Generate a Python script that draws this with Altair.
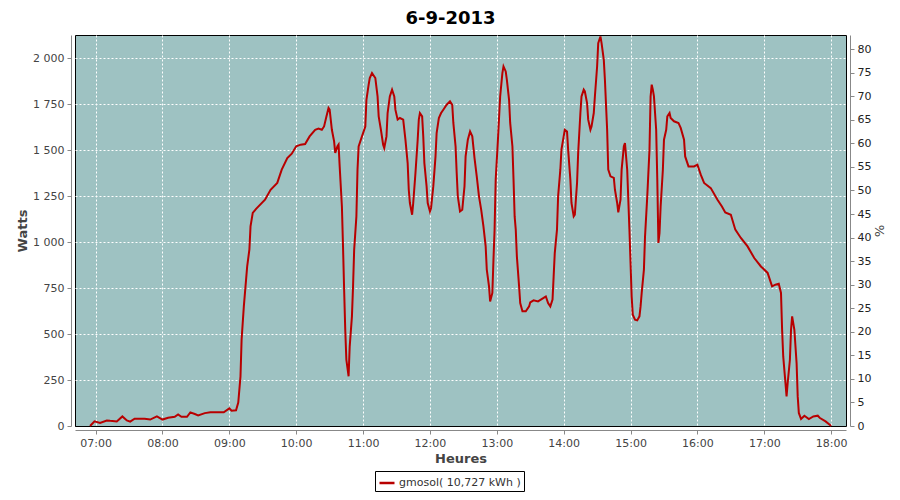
import altair as alt
import pandas as pd

# minutes after 07:00 and power in watts
minutes = [-5, -1, 4, 10, 13, 19, 24, 28, 31, 35, 44, 49, 55, 60, 65, 71, 74, 77, 82, 85,
           89, 92, 98, 103, 115, 120, 122, 126, 128, 130, 131, 133, 136, 138, 139, 141, 144,
           152, 157, 163, 167, 172, 176, 180, 184, 188, 192, 197, 200, 203, 205, 207, 209,
           210, 212, 214, 215, 217, 218, 219, 221, 222, 223, 224, 225, 227, 228, 230, 231,
           232, 234, 235, 236, 239, 242, 243, 245, 246, 248, 251, 253, 254, 256, 258, 259,
           261, 262, 264, 266, 268, 269, 271, 273, 276, 278, 280, 281, 282, 284, 285, 287,
           289, 290, 291, 293, 294, 295, 297, 298, 300, 301, 303, 305, 306, 308, 310, 312,
           315, 318, 320, 321, 323, 324, 325, 327, 329, 331, 332, 334, 336, 338, 340, 342,
           344, 346, 348, 350, 351, 353, 354, 356, 357, 358, 359, 361, 363, 365, 366, 368,
           369, 371, 372, 374, 375, 376, 377, 378, 380, 381, 383, 386, 389, 390, 393, 397,
           402, 404, 406, 408, 410, 411, 412, 414, 415, 417, 418, 420, 421, 423, 424, 426,
           427, 429, 430, 432, 433, 435, 436, 438, 439, 441, 442, 444, 445, 447, 448, 450,
           451, 453, 454, 456, 457, 459, 460, 462, 465, 466, 468, 469, 471, 472, 474, 475,
           477, 479, 480, 481, 482, 484, 486, 488, 489, 490, 492, 493, 495, 497, 498, 499,
           500, 501, 503, 504, 505, 506, 507, 509, 510, 512, 513, 515, 516, 519, 523, 525,
           528, 529, 532, 537, 540, 543, 546, 552, 558, 562, 565, 570, 574, 579, 585, 591,
           597, 603, 607, 610, 613, 615, 616, 617, 619, 620, 621, 623, 624, 625, 627, 629,
           630, 631, 633, 636, 640, 644, 648, 650, 655, 659, 660]
watts = [0, 25, 16, 30, 28, 25, 52, 30, 24, 40, 40, 35, 52, 35, 45, 50, 63, 50, 50, 74,
         65, 58, 70, 75, 75, 96, 83, 85, 127, 270, 470, 650, 867, 960, 1085, 1158, 1180,
         1230, 1284, 1321, 1393, 1456, 1480, 1520, 1529, 1532, 1574, 1610, 1616, 1610, 1628, 1679, 1728,
         1719, 1610, 1547, 1484, 1520, 1529, 1411, 1193, 976, 741, 523, 360, 270, 433, 596, 759,
         958, 1139, 1393, 1520, 1574, 1628, 1773, 1855, 1891, 1918, 1891, 1791, 1683, 1610, 1529, 1511,
         1574, 1701, 1791, 1828, 1791, 1719, 1665, 1674, 1665, 1556, 1429, 1284, 1212, 1148, 1212, 1375,
         1556, 1665, 1701, 1683, 1574, 1429, 1302, 1212, 1166, 1185, 1302, 1465, 1592, 1674, 1701, 1719,
         1746, 1764, 1746, 1647, 1520, 1375, 1248, 1166, 1175, 1302, 1465, 1556, 1601, 1574, 1456, 1357,
         1248, 1175, 1085, 976, 850, 759, 677, 723, 904, 1067, 1339, 1556, 1791, 1918, 1954, 1927,
         1882, 1773, 1647, 1520, 1339, 1139, 1067, 922, 759, 668, 623, 623, 650, 672, 683, 677,
         696, 704, 668, 650, 687, 813, 940, 1067, 1248, 1393, 1502, 1574, 1610, 1601, 1502, 1339,
         1212, 1139, 1148, 1321, 1484, 1701, 1791, 1828, 1818, 1755, 1665, 1610, 1628, 1701, 1791, 1954,
         2081, 2117, 2081, 1990, 1882, 1610, 1393, 1357, 1348, 1284, 1212, 1161, 1230, 1393, 1520, 1538,
         1393, 1067, 886, 704, 605, 578, 574, 596, 650, 723, 850, 1030, 1248, 1502, 1791, 1855,
         1828, 1791, 1610, 1339, 995, 1049, 1193, 1393, 1556, 1610, 1683, 1701, 1674, 1656, 1647, 1620,
         1556, 1465, 1411, 1411, 1420, 1366, 1321, 1293, 1230, 1193, 1161, 1148, 1067, 1022, 976, 913,
         867, 832, 759, 768, 773, 723, 523, 378, 234, 161, 234, 360, 523, 596, 523, 342,
         161, 71, 38, 56, 38, 52, 56, 43, 25, 5, 0]

series_name = "gmosol( 10,727 kWh )"
title_text = "6-9-2013"
watt_ticks = [0, 250, 500, 750, 1000, 1250, 1500, 1750, 2000]
pct_ticks = list(range(0, 81, 5))
hour_ticks = list(range(7, 19))

base_time = pd.Timestamp("2013-09-06 07:00")
df = pd.DataFrame({
    "t": [(base_time + pd.Timedelta(minutes=m)).strftime("%Y-%m-%dT%H:%M:%S") for m in minutes],
    "w": watts,
    "s": [series_name] * len(minutes),
})

x_domain = [alt.DateTime(year=2013, month=9, date=6, hours=6, minutes=41, seconds=30),
            alt.DateTime(year=2013, month=9, date=6, hours=18, minutes=13, seconds=20)]
x_values = [alt.DateTime(year=2013, month=9, date=6, hours=h) for h in hour_ticks]

FONT = "DejaVu Sans"

line = alt.Chart(df).mark_line(strokeWidth=2, interpolate="linear").encode(
    x=alt.X("t:T", scale=alt.Scale(domain=x_domain),
            axis=alt.Axis(title="Heures", values=x_values, format="%H:%M",
                          grid=True, gridColor="white", gridDash=[2, 2], gridWidth=1,
                          offset=4, domainColor="#888888", tickColor="#888888", tickSize=4,
                          labelColor="#444444", labelFontSize=11, labelFont=FONT, labelPadding=3,
                          titleFont=FONT, titleFontSize=13, titleFontWeight="bold",
                          titleColor="#444444", titlePadding=4)),
    y=alt.Y("w:Q", scale=alt.Scale(domain=[0, 2125], nice=False),
            axis=alt.Axis(title="Watts", values=watt_ticks,
                          labelExpr="replace(format(datum.value, ','), ',', ' ')",
                          grid=True,
                          gridColor=alt.condition("datum.value === 0", alt.value("black"), alt.value("white")),
                          gridDash=[2, 2], gridWidth=1,
                          offset=4, domainColor="#888888", tickColor="#888888", tickSize=4,
                          labelColor="#444444", labelFontSize=11, labelFont=FONT, labelPadding=3,
                          titleFont=FONT, titleFontSize=13, titleFontWeight="bold",
                          titleColor="#444444", titlePadding=3)),
    color=alt.Color("s:N", scale=alt.Scale(range=["#B80000"]),
                    legend=alt.Legend(title=None, orient="none", legendX=300, legendY=436,
                                      strokeColor="black", fillColor="white", padding=3,
                                      symbolType="stroke", symbolSize=225, symbolStrokeWidth=2.5,
                                      labelFont=FONT, labelFontSize=11, labelColor="#333333",
                                      labelOffset=3, cornerRadius=0)),
)

pct = alt.Chart(pd.DataFrame({"p": [0]})).mark_point(opacity=0).encode(
    y=alt.Y("p:Q", scale=alt.Scale(domain=[0, 83], nice=False),
            axis=alt.Axis(title="%", orient="right", values=pct_ticks, grid=False,
                          offset=4, domainColor="#888888", tickColor="#888888", tickSize=4,
                          labelColor="#222222", labelFontSize=11, labelFont=FONT, labelPadding=3,
                          titleFont=FONT, titleFontSize=13, titleFontWeight="normal",
                          titleColor="#444444", titlePadding=1)),
)

chart = alt.layer(line, pct).resolve_scale(y="independent").properties(
    width=771, height=391,
    background="white",
    autosize=alt.AutoSizeParams(type="none"),
    padding={"left": 67, "top": 27, "right": 46, "bottom": 66},
    title=alt.TitleParams(title_text, font=FONT, fontSize=18, fontWeight="bold",
                          color="black", anchor="middle", dx=-10, offset=4),
).configure_view(fill="#9EC2C2", stroke="black", strokeWidth=1)

chart.save("out.html", embed_options={"renderer": "svg", "actions": False})
